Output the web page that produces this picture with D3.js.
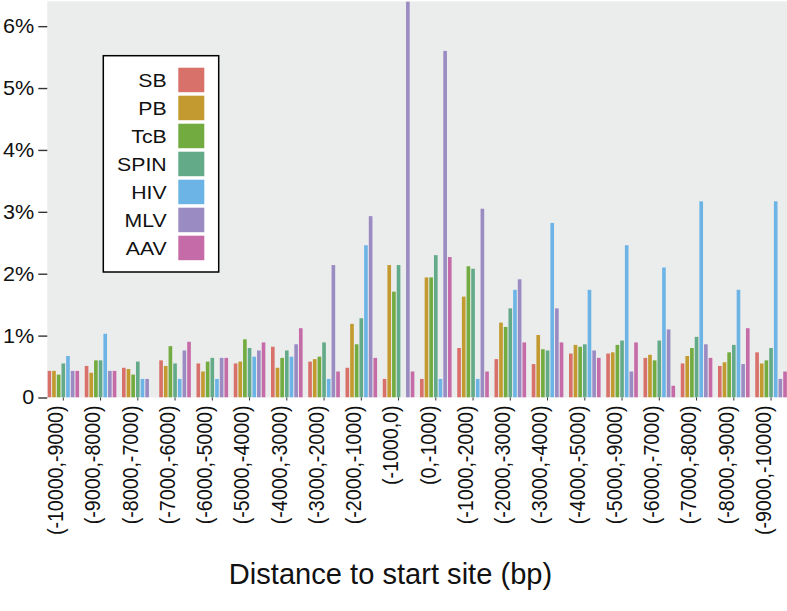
<!DOCTYPE html>
<html>
<head>
<meta charset="utf-8">
<script src="https://cdn.jsdelivr.net/npm/d3@7/dist/d3.min.js"></script>
<style>
  html, body { margin: 0; padding: 0; background: #ffffff; }
  svg { display: block; }
  text { font-family: "Liberation Sans", Arial, Helvetica, sans-serif; fill: #111; }
</style>
</head>
<body>
<svg id="chart" width="787" height="611"></svg>
<script>
const categories = ["(-10000,-9000)","(-9000,-8000)","(-8000,-7000)","(-7000,-6000)","(-6000,-5000)",
  "(-5000,-4000)","(-4000,-3000)","(-3000,-2000)","(-2000,-1000)","(-1000,0)","(0,-1000)",
  "(-1000,-2000)","(-2000,-3000)","(-3000,-4000)","(-4000,-5000)","(-5000,-9000)","(-6000,-7000)",
  "(-7000,-8000)","(-8000,-9000)","(-9000,-10000)"];
const seriesNames = ["SB","PB","TcB","SPIN","HIV","MLV","AAV"];
const seriesColors = ["#d9716b","#c39a2f","#72ab3f","#63aa89","#6cb4e5","#9b8bc3","#c56ba7"];

const sbValues   = [0.43,0.51,0.48,0.60,0.55,0.55,0.82,0.58,0.48,0.30,0.30,0.80,0.62,0.54,0.71,0.71,0.64,0.55,0.51,0.73];
const pbValues   = [0.43,0.40,0.46,0.51,0.42,0.58,0.48,0.62,1.19,2.14,1.94,1.63,1.21,1.01,0.85,0.73,0.69,0.67,0.57,0.55];
const tcbValues  = [0.37,0.60,0.37,0.83,0.58,0.94,0.64,0.66,0.86,1.71,1.94,2.12,1.14,0.78,0.82,0.85,0.60,0.80,0.73,0.60];
const spinValues = [0.55,0.60,0.58,0.55,0.64,0.80,0.76,0.89,1.28,2.14,2.30,2.08,1.44,0.76,0.86,0.92,0.92,0.98,0.85,0.80];
const hivValues  = [0.67,1.03,0.30,0.30,0.30,0.66,0.66,0.30,2.46,0.00,0.30,0.30,1.74,2.82,1.74,2.46,2.10,3.17,1.74,3.17];
const mlvValues  = [0.43,0.43,0.30,0.76,0.64,0.76,0.86,2.14,2.93,6.40,5.60,3.05,1.91,1.44,0.76,0.42,1.10,0.86,0.54,0.30];
const aavValues  = [0.43,0.43,0.00,0.90,0.64,0.89,1.12,0.42,0.64,0.42,2.27,0.42,0.89,0.89,0.64,0.89,0.19,0.64,1.12,0.42];

const yTicks = [0,1,2,3,4,5,6];
const yTickLabels = ["0","1%","2%","3%","4%","5%","6%"];
const xTitle = "Distance to start site (bp)";

const allValues = [sbValues,pbValues,tcbValues,spinValues,hivValues,mlvValues,aavValues];
const rows = categories.map((c,i) => ({
  cat: c,
  vals: seriesNames.map((s,j) => ({ s, v: allValues[j][i] }))
}));

const svg = d3.select("#chart");
const W = 787, H = 611;
const panelLeft = 47.3, panelTop = 1.4, panelBottom = 397.5;
const step = 37.25, firstCenter = 63.3, groupW = 31.6;

const x0 = d3.scaleBand().domain(categories)
  .range([firstCenter - step/2, firstCenter - step/2 + step*categories.length]).padding(0);
const x1 = d3.scaleBand().domain(seriesNames)
  .range([(step-groupW)/2, (step+groupW)/2]).paddingInner(0.22).paddingOuter(0);
const y = d3.scaleLinear().domain([0, 6.4]).range([panelBottom, panelTop]);
const color = d3.scaleOrdinal().domain(seriesNames).range(seriesColors);

// panel
svg.append("rect").attr("x", panelLeft).attr("y", panelTop)
  .attr("width", W - panelLeft + 20).attr("height", panelBottom - panelTop)
  .attr("fill", "#ebecec");

svg.append("clipPath").attr("id","pclip").append("rect")
  .attr("x", panelLeft).attr("y", panelTop).attr("width", W).attr("height", panelBottom - panelTop);

const bars = svg.append("g").attr("clip-path","url(#pclip)");
bars.selectAll("g.grp").data(rows).join("g").attr("class","grp")
  .attr("transform", d => `translate(${x0(d.cat)},0)`)
  .selectAll("rect").data(d => d.vals.filter(e => e.v > 0)).join("rect")
  .attr("x", d => x1(d.s)).attr("width", x1.bandwidth())
  .attr("y", d => y(d.v)).attr("height", d => y(0) - y(d.v))
  .attr("fill", d => color(d.s));

// y axis
const yAxis = d3.axisLeft(y).tickValues(yTicks).tickSize(9).tickPadding(4)
  .tickFormat((d,i) => yTickLabels[i]);
const gy = svg.append("g").attr("transform", `translate(${panelLeft},0)`).call(yAxis);
gy.select(".domain").remove();
gy.selectAll(".tick line").attr("stroke","#333").attr("stroke-width",1.4);
gy.selectAll(".tick text").attr("font-size", 20).attr("fill","#111")
  .attr("font-family", '"Liberation Sans", Arial, sans-serif')
  .each(function() {
    const t = d3.select(this);
    const xx = +t.attr("x");
    t.attr("transform", `translate(${xx},0) scale(1.08,1)`).attr("x", 0);
  });

// x axis
const xAxis = d3.axisBottom(x0).tickSize(3).tickPadding(4);
const gx = svg.append("g").attr("transform", `translate(0,${panelBottom})`).call(xAxis);
gx.select(".domain").remove();
gx.selectAll(".tick line").attr("stroke","#333").attr("stroke-width",1);
gx.selectAll(".tick text")
  .attr("font-size", 19.6).attr("fill","#111")
  .attr("font-family", '"Liberation Sans", Arial, sans-serif')
  .attr("text-anchor","end").attr("dy", null).attr("y", null)
  .attr("transform", `translate(-6,8) scale(1.12,1) rotate(-90)`)
  .attr("x", 0).attr("dominant-baseline","middle");

// x title
svg.append("text").attr("text-anchor","middle")
  .attr("transform", `translate(${(228+553)/2},584) scale(0.97,1)`)
  .attr("font-size", 30).text(xTitle);

// legend
const lg = svg.append("g");
lg.append("rect").attr("x",103.3).attr("y",55.7).attr("width",115.4).attr("height",216.3)
  .attr("fill","#ffffff").attr("stroke","#000").attr("stroke-width",1.5);
const lrow = lg.selectAll("g.item").data(seriesNames).join("g").attr("class","item")
  .attr("transform", (d,i) => `translate(0,${67.7 + i*28})`);
lrow.append("rect").attr("x",178.3).attr("y",0).attr("width",26).attr("height",24.5)
  .attr("fill", d => color(d));
lrow.append("text").attr("text-anchor","end")
  .attr("transform", `translate(166.7,19.3) scale(1.15,1)`)
  .attr("font-size", 18.5).text(d => d);
</script>
</body>
</html>
